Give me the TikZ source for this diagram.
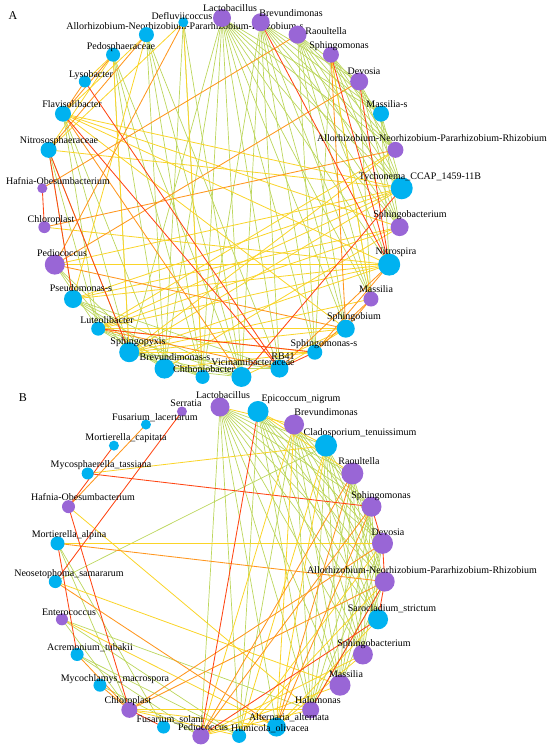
\documentclass[tikz,border=0pt]{standalone}
\usepackage{fontspec}
\setmainfont{Liberation Serif}
\definecolor{cy}{RGB}{0,178,240}
\definecolor{pu}{RGB}{153,102,214}
\definecolor{cgreen}{RGB}{188,214,92}
\definecolor{cyellow}{RGB}{250,212,40}
\definecolor{corange}{RGB}{255,150,30}
\definecolor{cred}{RGB}{255,70,20}
\pgfdeclarelayer{bg}\pgfdeclarelayer{mid}
\pgfsetlayers{bg,mid,main}
\tikzset{
 nd/.style={circle,inner sep=0pt,draw=none},
 lb/.style={font=\fontsize{10}{12}\selectfont,inner sep=0pt,text height=7pt,text depth=2pt},
 eg/.style={draw=cgreen,line width=0.7pt},
 ey/.style={draw=cyellow,line width=0.8pt},
 eo/.style={draw=corange,line width=0.85pt},
 er/.style={draw=cred,line width=0.85pt},
 panel/.style={font=\fontsize{12}{14}\selectfont,inner sep=0pt}
}
\begin{document}
\begin{tikzpicture}[x=1pt,y=1pt]
\useasboundingbox (0,0) rectangle (550,-752);
\node[panel] (pA) at (13,-16) {A};
\node[panel] (pB) at (23,-398) {B};
% ---------- panel A nodes ----------
\begin{scope}[shift={(222,-198)}]
\foreach \i/\d/\c in {0/18/pu,1/18/pu,2/18/pu,3/16/pu,4/18/pu,5/16/cy,6/16/pu,7/22/cy,8/18/pu,9/22/cy,10/15/pu,11/18/cy,12/15/cy,13/18/cy,14/20/cy,15/14/cy,16/20/cy,17/20/cy,18/14/cy,19/18/cy,20/20/pu,21/12/pu,22/10/pu,23/16/cy,24/16/cy,25/12/cy,26/14/cy,27/15/cy,28/10/cy}
  \node[nd,fill=\c,minimum size=\d pt] (a\i) at ({90-\i*360/29}:180) {};
\end{scope}
% ---------- panel B nodes ----------
\begin{scope}[shift={(220,-572)}]
\foreach \i/\d/\c in {0/19/pu,1/21/cy,2/20/pu,3/22/cy,4/22/pu,5/20/pu,6/21/pu,7/20/pu,8/20/cy,9/20/pu,10/21/pu,11/17/pu,12/19/cy,13/14/cy,14/17/pu,15/13/cy,16/16/pu,17/13/cy,18/13/cy,19/12/pu,20/13/cy,21/14/cy,22/13/pu,23/12/cy,24/10/cy,25/10/cy,26/10/pu}
  \node[nd,fill=\c,minimum size=\d pt] (b\i) at ({90-\i*360/27}:165) {};
\end{scope}
% ---------- edges A ----------
\begin{pgfonlayer}{bg}
\foreach \s/\t in {0/5,0/6,0/7,0/8,0/9,0/10,0/11,0/12,0/13,0/14,0/15,0/16,0/17,
 1/4,1/5,1/6,1/7,1/8,1/10,1/11,1/12,1/13,1/14,1/15,
 2/4,2/5,2/6,2/7,2/8,2/9,2/10,2/11,2/12,
 3/5,3/6,3/7,3/8,3/10,3/12,4/6,4/7,4/8,4/10,5/7,5/8,5/9,
 26/14,26/15,26/16,26/17,27/13,27/14,27/15,27/16,28/14,28/15,28/16,
 24/16,24/17,24/18,23/17,23/18,23/19,
 19/13,19/14,19/15,19/16,18/14,18/15,18/16,17/13,17/14,17/15,16/13,16/14,
 20/9,20/16,20/17,20/18}
  \draw[eg] (a\s.center) -- (a\t.center);
\foreach \s/\t in {7/24,7/20,7/19,7/18,7/23,7/17,9/20,9/19,9/18,9/17,9/24,9/21,
 8/19,8/18,8/16,6/18,6/17,26/23,26/17,26/25,27/24,27/19,28/23,28/15,
 12/16,12/17,12/18,11/17,11/18,10/17,24/8,24/11,3/10,13/11,14/11}
  \draw[ey] (a\s.center) -- (a\t.center);
\foreach \s/\t in {2/22,4/20,6/21,28/20,27/23,20/11,3/11,10/11,10/12,9/13,9/12,24/14,18/13,25/24,26/24}
  \draw[eo] (a\s.center) -- (a\t.center);
\foreach \s/\t in {1/9,3/9,4/9,25/13,24/13,23/17,23/19,22/21,18/12,7/14,13/12}
  \draw[er] (a\s.center) -- (a\t.center);
% ---------- edges B ----------
\foreach \s/\t in {0/3,0/4,0/5,0/6,0/7,0/8,0/9,0/10,0/11,0/12,0/13,0/14,
 1/5,1/6,1/7,1/8,1/9,1/10,1/11,1/13,
 2/5,2/6,2/7,2/8,2/9,2/10,2/11,2/13,
 3/6,3/7,3/8,3/9,3/10,3/11,4/7,4/8,4/9,4/10,4/11,
 5/8,5/9,5/10,5/11,6/9,6/10,6/11,7/10,7/11,
 20/3,19/11,19/13,18/14,18/13,17/14,21/15,21/16,19/16}
  \draw[eg] (b\s.center) -- (b\t.center);
\foreach \s/\t in {0/2,1/3,1/4,2/14,2/12,23/3,22/11,20/10,16/11,16/12,16/13,14/11,14/10,14/9,12/8,12/9,13/6,13/7,3/12,3/13,19/12}
  \draw[ey] (b\s.center) -- (b\t.center);
\draw[ey,line width=1.4pt] (b21.center) -- (b6.center);
\foreach \s/\t in {25/22,21/7,20/12,16/7,16/6,14/4,14/5,12/4,12/5,18/16,17/16}
  \draw[eo] (b\s.center) -- (b\t.center);
\foreach \s/\t in {26/20,24/22,23/5,22/16,21/18,14/1,14/8,16/15,5/6,6/7,7/8,11/7}
  \draw[er] (b\s.center) -- (b\t.center);
\end{pgfonlayer}
% long label partly hidden by nodes
\begin{pgfonlayer}{mid}
\node[lb] (la27) at (185,-27) {Allorhizobium-Neorhizobium-Pararhizobium-Rhizobium-s};
\end{pgfonlayer}
% ---------- labels A ----------
\foreach \i/\x/\y/\t in {0/230/9/Lactobacillus,1/291/14/Brevundimonas,2/326/32/Raoultella,
 3/339/46/Sphingomonas,4/364/72/Devosia,5/387/105/Massilia-s,
 6/432/139/Allorhizobium-Neorhizobium-Pararhizobium-Rhizobium,
 7/420/177/Tychonema\_CCAP\_1459-11B,8/410/215/Sphingobacterium,9/396/252/Nitrospira,
 10/376/290/Massilia,11/354/317/Sphingobium,12/324/344/Sphingomonas-s,13/283/357/RB41,
 14/253/363/Vicinamibacteraceae,15/204/370/Chthoniobacter,16/175/358/Brevundimonas-s,
 17/138/342/Sphingopyxis,18/107/321/Luteolibacter,19/81/289/Pseudomonas-s,
 20/62/254/Pediococcus,21/51/220/Chloroplast,22/58/182/Hafnia-Obesumbacterium,
 23/59/141/Nitrososphaeraceae,24/72/105/Flavisolibacter,25/91/75/Lysobacter,
 26/121/47/Pedosphaeraceae,28/182/17/Defluviicoccus}
  \node[lb] (la\i) at (\x,-\y) {\t};
% ---------- labels B ----------
\foreach \i/\x/\y/\t in {0/223/396/Lactobacillus,1/301/399/Epicoccum\_nigrum,2/326/413/Brevundimonas,
 3/360/433/Cladosporium\_tenuissimum,4/359/462/Raoultella,5/381/496/Sphingomonas,
 6/388/533/Devosia,7/422/571/Allorhizobium-Neorhizobium-Pararhizobium-Rhizobium,
 8/392/609/Sarocladium\_strictum,9/374/644/Sphingobacterium,10/346/675/Massilia,
 11/318/701/Halomonas,12/289/718/Alternaria\_alternata,13/270/729/Humicola\_olivacea,
 14/203/728/Pediococcus,15/170/720/Fusarium\_solani,16/128/701/Chloroplast,
 17/115/679/Mycochlamys\_macrospora,18/90/648/Acremonium\_tubakii,19/69/613/Enterococcus,
 20/69/574/Neosetophoma\_samararum,21/69/535/Mortierella\_alpina,
 22/83/498/Hafnia-Obesumbacterium,23/101/465/Mycosphaerella\_tassiana,
 24/126/438/Mortierella\_capitata,25/155/418/Fusarium\_lacertarum,26/186/404/Serratia}
  \node[lb] (lb\i) at (\x,-\y) {\t};
\end{tikzpicture}
\end{document}
